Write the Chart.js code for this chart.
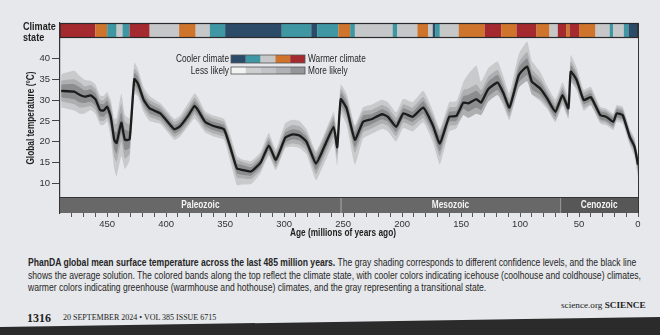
<!DOCTYPE html>
<html>
<head>
<meta charset="utf-8">
<script src="https://cdn.jsdelivr.net/npm/chart.js@4/dist/chart.umd.min.js"></script>
<style>
  body { margin:0; background:#e6e8eb; width:660px; height:335px; overflow:hidden; position:relative;
         font-family:'Liberation Sans',Arial,sans-serif; color:#222; }
  #c { position:absolute; left:0; top:0; }
  .cap { position:absolute; left:28px; top:256px; font-size:10.5px; line-height:12.7px; color:#262626; }
  .cap .ln { display:inline-block; white-space:nowrap; transform-origin:0 50%; }
  .foot { position:absolute; font-family:'Liberation Serif','DejaVu Serif',serif; white-space:nowrap; color:#222; }
  .strip { position:absolute; left:0; top:315px; width:660px; height:20px; background:#2b2b2b;
           clip-path: polygon(0 12px, 660px 2px, 660px 20px, 0 20px); }
</style>
</head>
<body>
<canvas id="c" width="660" height="240" style="width:660px;height:240px"></canvas>

<div class="cap">
  <div class="ln"><b>PhanDA global mean surface temperature across the last 485 million years.</b> The gray shading corresponds to different confidence levels, and the black line</div><br>
  <div class="ln">shows the average solution. The colored bands along the top reflect the climate state, with cooler colors indicating icehouse (coolhouse and coldhouse) climates,</div><br>
  <div class="ln">warmer colors indicating greenhouse (warmhouse and hothouse) climates, and the gray representing a transitional state.</div>
</div>

<div class="foot" style="left:27px;top:311px;font-size:12px;font-weight:bold">1316</div>
<div class="foot" style="left:63px;top:313px;font-size:8px">20 SEPTEMBER 2024 • VOL 385 ISSUE 6715</div>
<div class="foot" style="left:561px;top:300px;font-size:9.2px">science.org <b>SCIENCE</b></div>
<div class="strip"></div>

<script>
// Ages in millions of years ago, mean temperature (°C)
const ages = [489,478,473,469,464,460,456,453,450,447,
  444,442,438,435,431,427,424,419,414,405,
  400,393,388,381,376,373,367,360,351,345,
  340,336,328,320,313,307,299,293,287,281,
  273,266,258,255,252,247,240,233,226,217,
  212,205,199,191,182,174,168,160,154,148,
  144,137,133,127,119,114,109,101,94,90,
  83,77,70,64,59,57,52,46,40,32,
  27,21,18,13,7,3,0];
const temps = [32.2,32.0,31.2,30.8,31.1,30.2,27.6,27.5,28.4,26.0,
  20.5,19.7,24.6,20.5,20.6,35.0,34.0,30.0,28.0,26.8,
  25.2,23.0,23.8,26.4,28.6,27.6,24.8,23.8,23.0,18.1,
  13.6,13.3,12.9,15.0,19.1,15.7,21.0,21.8,21.5,20.0,
  14.8,18.8,23.6,18.7,30.2,28.0,20.5,24.8,25.4,26.6,
  26.0,23.6,26.8,26.0,28.2,24.0,19.6,26.0,26.2,29.4,
  29.2,30.2,29.4,32.6,34.2,31.6,28.2,36.0,38.0,34.4,
  32.8,30.4,27.2,31.2,28.0,36.8,34.8,30.0,30.7,26.4,
  26.0,24.8,26.8,26.4,21.2,18.9,14.5];

// Confidence band spreads (°C) read from the gray shading
const outerUp = [4,5,4.5,4,3.5,3.5,3.5,3.5,3.5,4,
  5,6,7,6,5,4,3.5,3,3,2.5,
  2.5,2.5,2.5,3,3,3,2.5,2.5,2.5,3,
  3,2.5,2.5,2.5,3,2.5,3.5,3.5,3.5,3,
  3,3,3.5,3.5,3.5,3.5,3.5,3.5,3.5,3.5,
  3.5,3.5,3.5,3.5,4,3.5,3.5,3.5,3.5,5,
  7,8,5,5,5,4,3.5,5,6,5,
  4,3,3,3,3,4,3,2.5,2.5,2,
  2,2,2,2,2,2,2];
const outerDn = [4,4.5,4.5,4,3.5,3.5,3.5,3.5,3.5,5,
  7,8,8,7,5,3.5,3,3,3,2.5,
  2.5,2.5,2.5,2.5,3,3,2.5,2.5,2.5,3.5,
  4,3.5,3,2.5,2.5,2.5,2.5,3,3,3,
  4,4,4,4.5,3.5,4,6,4,3.5,3.5,
  3.5,3.5,3.5,3.5,3.5,4,5,3.5,3,3,
  3,3,3,3,3,3,3,3,3,3,
  3,2.5,2.5,2.5,2.5,2.5,2.5,2.5,2,2,
  2,2,2,2,2,2.5,3];
const midHalf = [2.5,3,3,2.5,2.5,2.5,2.5,2.5,2.5,3,
  4,4.5,4.5,4.5,3.5,2.5,2.5,2,2,1.8,
  1.8,1.8,1.8,2,2,2,1.8,1.8,1.8,2,
  2.2,2,1.8,1.8,2,1.8,2,2.2,2.2,2,
  2.5,2.5,2.5,2.5,2.5,2.5,3,2.5,2.2,2.2,
  2.2,2.2,2.2,2.2,2.5,2.5,3,2.2,2.2,3,
  3.5,3.5,3,3,3,2.5,2.2,3,3.5,3,
  2.5,2,2,2,2,2.5,2,1.8,1.8,1.5,
  1.5,1.5,1.5,1.5,1.5,1.5,2];
const innerHalf = [1.5,1.8,1.8,1.5,1.5,1.5,1.5,1.5,1.5,1.8,
  2.2,2.5,2.5,2.5,2,1.5,1.5,1.2,1.2,1,
  1,1,1,1.2,1.2,1.2,1,1,1,1.2,
  1.2,1.2,1,1,1.2,1,1.2,1.2,1.2,1.2,
  1.5,1.5,1.5,1.5,1.5,1.5,1.8,1.5,1.2,1.2,
  1.2,1.2,1.2,1.2,1.5,1.5,1.8,1.2,1.2,1.5,
  2,2,1.8,1.8,1.8,1.5,1.2,1.8,2,1.8,
  1.5,1.2,1.2,1.2,1.2,1.5,1.2,1,1,1,
  1,1,1,1,1,1,1.2];

const yTickVals = [10,15,20,25,30,35,40];
const xLabelVals = [0,50,100,150,200,250,300,350,400,450];

// Climate state band along the top
const climateFrom = [490,460,450,442,437,431,414,389,375,363,350,302,277,272,254,244,240,208,204,187,178,174,172,168,152,130,116,103,86,75,68,61,58,50,36,24,21,12,8];
const climateTo   = [460,450,442,437,431,414,389,375,363,350,302,277,272,254,244,240,208,204,187,178,174,172,168,152,130,116,103,86,75,68,61,58,50,36,24,21,12,8,0];
const climateState = ['hot','warm','cool','trans','cool','hot','trans','warm','trans','cool','cold','cool','cold','cool','warm','cool','trans','cool','trans','warm','trans','cold','cool','trans','warm','hot','warm','hot','warm','trans','hot','warm','hot','warm','trans','cool','trans','cool','cold'];
const stateColor = { cold:'#2c4b69', cool:'#3e97a2', trans:'#c6c7c9', warm:'#cf742c', hot:'#a42a2f' };

const eraNames = ['Paleozoic','Mesozoic','Cenozoic'];
const eraFrom = [490,252,66];
const eraTo = [252,66,0];

const FONT = "'Liberation Sans',Arial,sans-serif";
const SX = 0.79; // narrow look of the magazine font

// caption lines squeezed to the widths in the print
const capWidths = [608, 613, 458];
document.querySelectorAll('.cap .ln').forEach((el, i) => {
  el.style.transform = `scaleX(${capWidths[i] / el.offsetWidth})`;
});

function narrowText(ctx, text, x, y, align, font) {
  ctx.save();
  ctx.font = font;
  ctx.textAlign = align;
  ctx.textBaseline = 'middle';
  ctx.translate(x, y);
  ctx.scale(SX, 1);
  ctx.fillText(text, 0, 0);
  ctx.restore();
}

function band(offUp, offDn) {
  return ages.map((a, i) => ({ x: a, y: temps[i] + (offUp ? offUp[i] : 0) - (offDn ? offDn[i] : 0) }));
}

const decor = {
  id: 'decor',
  afterDatasetsDraw(chart) {
    const { ctx, chartArea: a, scales: { x } } = chart;
    ctx.save();
    // climate state band
    for (let i = 0; i < climateFrom.length; i++) {
      let x0 = x.getPixelForValue(climateFrom[i]);
      let x1 = x.getPixelForValue(climateTo[i]);
      ctx.fillStyle = stateColor[climateState[i]];
      ctx.fillRect(x0, a.top, x1 - x0, 14);
    }
    ctx.strokeStyle = '#2a2a2a';
    ctx.lineWidth = 1.2;
    ctx.strokeRect(a.left, a.top + 0.5, a.right - a.left, 14);

    // era bar
    let eb = a.bottom - 16;
    for (let i = 0; i < eraNames.length; i++) {
      let x0 = x.getPixelForValue(eraFrom[i]);
      let x1 = x.getPixelForValue(eraTo[i]);
      ctx.fillStyle = i === 2 ? '#575757' : '#686868';
      ctx.fillRect(x0, eb, x1 - x0, 16);
      ctx.fillStyle = '#f4f4f4';
      narrowText(ctx, eraNames[i], (x0 + x1) / 2, eb + 8.5, 'center', `bold 10.5px ${FONT}`);
      if (i > 0) {
        ctx.strokeStyle = '#9a9a9a';
        ctx.lineWidth = 1;
        ctx.beginPath(); ctx.moveTo(x0 + 0.5, eb); ctx.lineTo(x0 + 0.5, a.bottom); ctx.stroke();
      }
    }
    ctx.strokeStyle = '#333';
    ctx.lineWidth = 1;
    ctx.beginPath(); ctx.moveTo(a.left, eb + 0.5); ctx.lineTo(a.right, eb + 0.5); ctx.stroke();

    // right frame
    ctx.beginPath(); ctx.moveTo(a.right + 0.5, a.top); ctx.lineTo(a.right + 0.5, a.bottom); ctx.stroke();
    ctx.restore();
  },
  afterDraw(chart) {
    const { ctx } = chart;
    ctx.save();
    ctx.fillStyle = '#1e1e1e';
    narrowText(ctx, 'Climate', 23, 27, 'left', `bold 11.5px ${FONT}`);
    narrowText(ctx, 'state', 23, 38, 'left', `bold 11.5px ${FONT}`);

    // axis titles
    narrowText(ctx, 'Age (millions of years ago)', 343, 233, 'center', `bold 10.5px ${FONT}`);
    ctx.save();
    ctx.translate(31, 118);
    ctx.rotate(-Math.PI / 2);
    narrowText(ctx, 'Global temperature (°C)', 0, 0, 'center', `bold 10.5px ${FONT}`);
    ctx.restore();

    // legend
    ctx.fillStyle = '#262626';
    narrowText(ctx, 'Cooler climate', 229, 59, 'right', `10.5px ${FONT}`);
    narrowText(ctx, 'Less likely', 229, 71, 'right', `10.5px ${FONT}`);
    narrowText(ctx, 'Warmer climate', 308, 59, 'left', `10.5px ${FONT}`);
    narrowText(ctx, 'More likely', 308, 71, 'left', `10.5px ${FONT}`);
    let keyCols = ['cold', 'cool', 'trans', 'warm', 'hot'];
    let likely = ['#f2f2f2', '#cdcecf', '#c2c3c4', '#b0b1b2', '#959697'];
    let w = 74 / 5;
    for (let i = 0; i < 5; i++) {
      ctx.fillStyle = stateColor[keyCols[i]];
      ctx.fillRect(231 + i * w, 55, w, 8);
      ctx.fillStyle = likely[i];
      ctx.fillRect(231 + i * w, 67, w, 7);
    }
    ctx.strokeStyle = '#555';
    ctx.lineWidth = 0.8;
    ctx.strokeRect(231, 55, 74, 8);
    ctx.strokeRect(231, 67, 74, 7);
    ctx.restore();
  }
};

const xTickVals = [];
for (let v = 0; v <= 480; v += 10) xTickVals.push(v);

new Chart(document.getElementById('c'), {
  type: 'line',
  data: {
    datasets: [
      { data: band(outerUp, null), fill: '+1', backgroundColor: '#c9cacc', borderWidth: 0, order: 4 },
      { data: band(null, outerDn), fill: false, borderWidth: 0, order: 4 },
      { data: band(midHalf, null), fill: '+1', backgroundColor: '#aeafb1', borderWidth: 0, order: 3 },
      { data: band(null, midHalf), fill: false, borderWidth: 0, order: 3 },
      { data: band(innerHalf, null), fill: '+1', backgroundColor: '#8c8d8f', borderWidth: 0, order: 2 },
      { data: band(null, innerHalf), fill: false, borderWidth: 0, order: 2 },
      { data: band(null, null), fill: false, borderColor: '#1c1c1c', borderWidth: 2.3, order: 1 }
    ]
  },
  options: {
    responsive: false,
    animation: false,
    layout: { padding: { left: 0, right: 22, top: 23, bottom: 0 } },
    elements: { point: { radius: 0 }, line: { tension: 0.15, borderJoinStyle: 'round' } },
    plugins: { legend: { display: false }, tooltip: { enabled: false } },
    scales: {
      x: {
        type: 'linear', reverse: true, min: 0, max: 490,
        afterBuildTicks: s => { s.ticks = xTickVals.map(v => ({ value: v })); },
        afterFit: s => { s.height = 27; },
        grid: { drawOnChartArea: false, tickLength: 4, color: '#555' },
        border: { display: false },
        ticks: { autoSkip: false, maxRotation: 0, padding: 2, color: '#333', font: { family: FONT, size: 9.5 },
          callback: v => xLabelVals.includes(v) ? v : '' }
      },
      y: {
        min: 2.96, max: 48.45,
        afterBuildTicks: s => { s.ticks = yTickVals.map(v => ({ value: v })); },
        afterFit: s => { s.width = 60; },
        grid: { drawOnChartArea: false, tickLength: 8, color: '#444' },
        border: { color: '#333', width: 1.2 },
        ticks: { padding: 2, color: '#333', font: { family: FONT, size: 9.5 } }
      }
    }
  },
  plugins: [decor]
});
</script>
</body>
</html>
